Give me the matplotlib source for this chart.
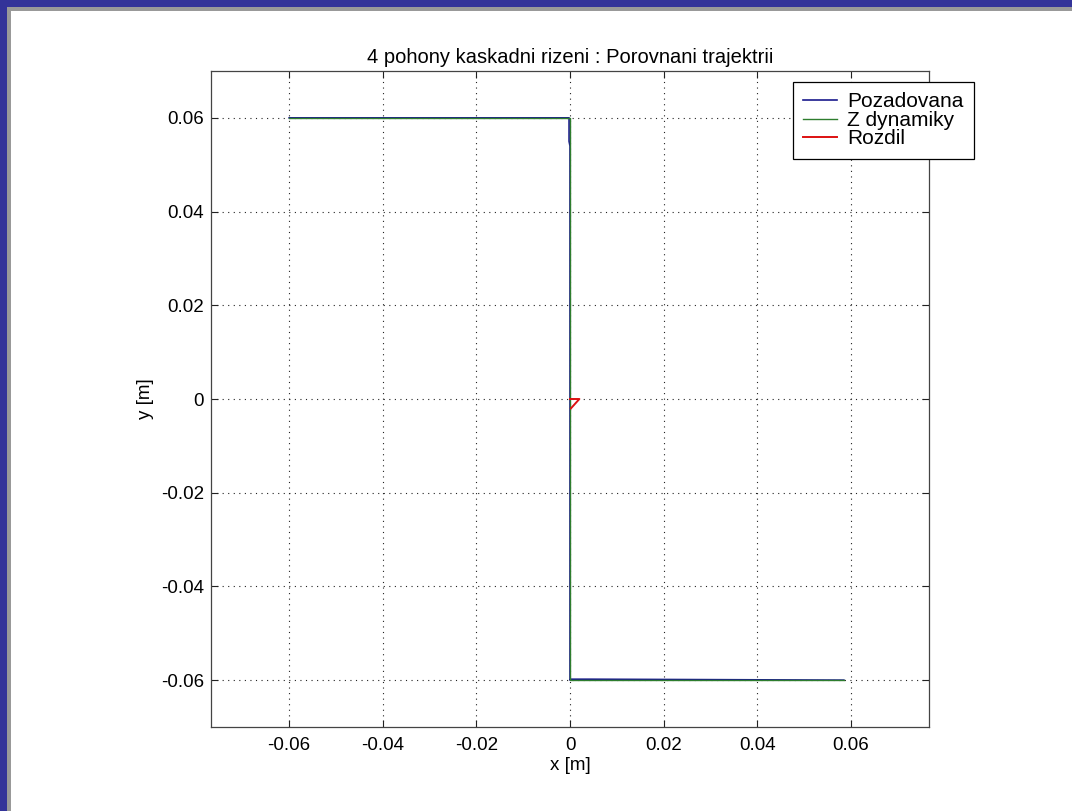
import matplotlib
matplotlib.use("Agg")
import matplotlib.pyplot as plt
from matplotlib.patches import Rectangle

plt.rcParams['font.family'] = ['Liberation Sans', 'DejaVu Sans']

# Data
title = "4 pohony kaskadni rizeni : Porovnani trajektrii"
series_names = ["Pozadovana", "Z dynamiky", "Rozdil"]
desired_x = [-0.06, -0.0002, -0.0002, 0.0, 0.0, 0.0002, 0.0043, 0.0585]
desired_y = [0.06, 0.06, 0.055, 0.054, -0.06, -0.0598, -0.0598, -0.06]
actual_x = [-0.06, 0.0, 0.0, 0.0585]
actual_y = [0.06, 0.06, -0.06, -0.06]
diff_x = [0.0, 0.002, 0.0002]
diff_y = [0.0, 0.0, -0.002]
ticks = [-0.06, -0.04, -0.02, 0, 0.02, 0.04, 0.06]
tick_labels = ["-0.06", "-0.04", "-0.02", "0", "0.02", "0.04", "0.06"]

W, H = 1072, 811
fig = plt.figure(figsize=(W / 100, H / 100), dpi=100)
fig.patch.set_facecolor('white')

# window border (blue + gray strip, top and left)
fig.patches.append(Rectangle((0, 1 - 7 / H), 1, 7 / H, transform=fig.transFigure,
                             facecolor='#333399', edgecolor='none', zorder=0))
fig.patches.append(Rectangle((7 / W, 1 - 11 / H), 1, 4 / H, transform=fig.transFigure,
                             facecolor='#999999', edgecolor='none', zorder=0))
fig.patches.append(Rectangle((0, 0), 7 / W, 1, transform=fig.transFigure,
                             facecolor='#333399', edgecolor='none', zorder=0))
fig.patches.append(Rectangle((7 / W, 0), 4 / W, 1 - 7 / H, transform=fig.transFigure,
                             facecolor='#999999', edgecolor='none', zorder=0))

left, right, top, bottom = 211, 929, 71, 727
ax = fig.add_axes([left / W, (H - bottom) / H, (right - left) / W, (bottom - top) / H])

l1, = ax.plot(desired_x, desired_y, color='#1a1a8c', lw=1.2, label=series_names[0])
l2, = ax.plot(actual_x, actual_y, color='#2e7d2e', lw=1.0, label=series_names[1])
l3, = ax.plot(diff_x, diff_y, color='#dd1111', lw=1.4, label=series_names[2])

ax.set_xlim(-0.0767, 0.0767)
ax.set_ylim(-0.07, 0.07)
ax.set_xticks(ticks)
ax.set_xticklabels(tick_labels)
ax.set_yticks(ticks)
ax.set_yticklabels(tick_labels)
ax.tick_params(direction='in', length=5, width=0.8, top=True, right=True,
               labelsize=13.5, pad=5, colors='#222222', labelcolor='black')
ax.tick_params(axis='x', pad=7)
ax.grid(True, linestyle=(0, (1, 4)), color='#222222', lw=0.8)
for s in ax.spines.values():
    s.set_color('#444444')
    s.set_linewidth(0.9)

ax.set_title(title, fontsize=14.5, pad=6)
ax.set_xlabel("x [m]", fontsize=13.5, labelpad=2)
ax.set_ylabel("y [m]", fontsize=13.5, labelpad=5)

leg = fig.legend(handles=[l1, l2, l3], loc='upper right',
                 bbox_to_anchor=(974 / W, 1 - 82 / H), fontsize=15,
                 frameon=True, fancybox=False, framealpha=1, edgecolor='black',
                 handlelength=1.63, handletextpad=0.48, borderpad=0.5,
                 labelspacing=-0.03, borderaxespad=0)
leg.get_frame().set_linewidth(0.9)

fig.savefig("out.png", dpi=100)
